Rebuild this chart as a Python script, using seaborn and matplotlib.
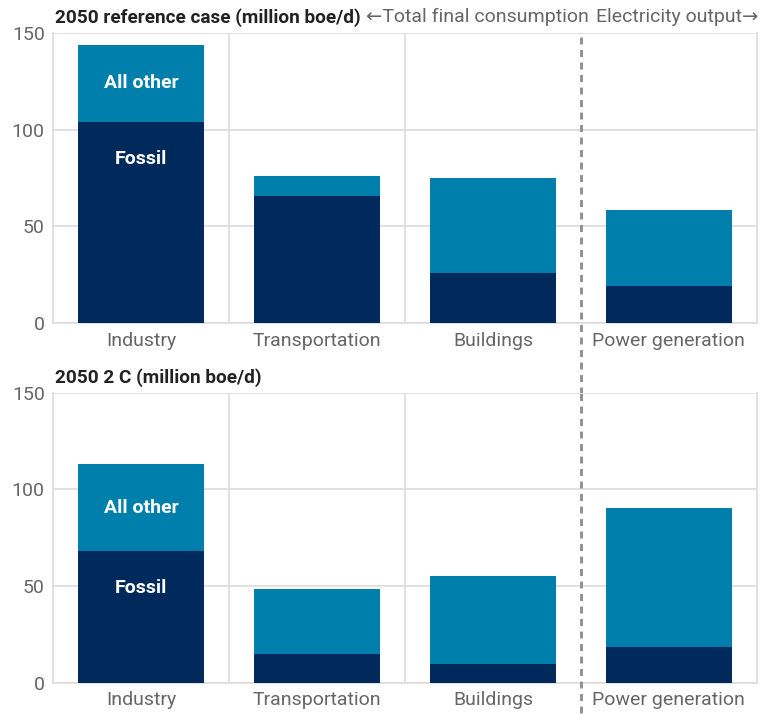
import matplotlib
matplotlib.use("Agg")
import matplotlib.pyplot as plt
import seaborn as sns
import pandas as pd

# Data (million boe/d)
sectors = ["Industry", "Transportation", "Buildings", "Power generation"]
ref_total = [144, 76, 75, 58.5]
ref_fossil = [104, 65.5, 25.7, 19]
c2_total = [113, 48.5, 55, 90.5]
c2_fossil = [68, 15, 9.7, 18.5]

titles = ["2050 reference case (million boe/d)", "2050 2 C (million boe/d)"]
yticks = [0, 50, 100, 150]

NAVY = "#002a5c"
BLUE = "#007fad"
GRID = "#dcdcdc"
TICK = "#666666"

sns.set_theme(style="white")
plt.rcParams["font.family"] = ["Roboto", "DejaVu Sans"]

fig = plt.figure(figsize=(7.7, 7.15), dpi=100)
ax_top = fig.add_axes([0.069, 0.548, 0.914, 0.406])
ax_bot = fig.add_axes([0.069, 0.045, 0.914, 0.406])

panels = [(ax_top, ref_total, ref_fossil, -0.245),
          (ax_bot, c2_total, c2_fossil, -0.105)]

for ax, total, fossil, dash_bottom in panels:
    df = pd.DataFrame({"sector": sectors, "total": total, "fossil": fossil})
    sns.barplot(data=df, x="sector", y="total", color=BLUE, width=0.72,
                saturation=1, linewidth=0, ax=ax, zorder=3)
    sns.barplot(data=df, x="sector", y="fossil", color=NAVY, width=0.72,
                saturation=1, linewidth=0, ax=ax, zorder=4)
    ax.set_xlim(-0.5, 3.5)
    ax.set_ylim(0, 150)
    ax.set_yticks(yticks)
    ax.set_xlabel("")
    ax.set_ylabel("")
    ax.tick_params(axis="both", length=0, labelsize=14, labelcolor=TICK, pad=6)
    ax.yaxis.grid(True, color=GRID, linewidth=1.2, zorder=0)
    for xv in [0.5, 1.5]:
        ax.axvline(xv, color=GRID, linewidth=1.2, zorder=0)
    for side in ["left", "right", "bottom", "top"]:
        ax.spines[side].set_color(GRID)
        ax.spines[side].set_linewidth(1.2)
    ax.spines["top"].set_visible(False)
    ax.axvline(2.5, ymin=dash_bottom, ymax=1, color="#8c8c8c", linewidth=2,
               linestyle=(0, (2.5, 2)), clip_on=False, zorder=5)
    # in-bar labels on the Industry column
    ax.text(0, (fossil[0] + total[0]) / 2, "All other", color="white",
            fontsize=14, fontweight="bold", ha="center", va="center", zorder=6)
    ax.text(0, fossil[0] - 19, "Fossil", color="white",
            fontsize=14, fontweight="bold", ha="center", va="center", zorder=6)

fig.text(0.071, 0.976, titles[0], fontsize=13.7, fontweight="bold",
         color="#222222", ha="left", va="center")
fig.text(0.071, 0.472, titles[1], fontsize=13.7, fontweight="bold",
         color="#222222", ha="left", va="center")
fig.text(0.765, 0.976, "\u2190Total final consumption", fontsize=14,
         color=TICK, ha="right", va="center")
fig.text(0.985, 0.976, "Electricity output\u2192", fontsize=14,
         color=TICK, ha="right", va="center")

fig.savefig("out.png", dpi=100)
